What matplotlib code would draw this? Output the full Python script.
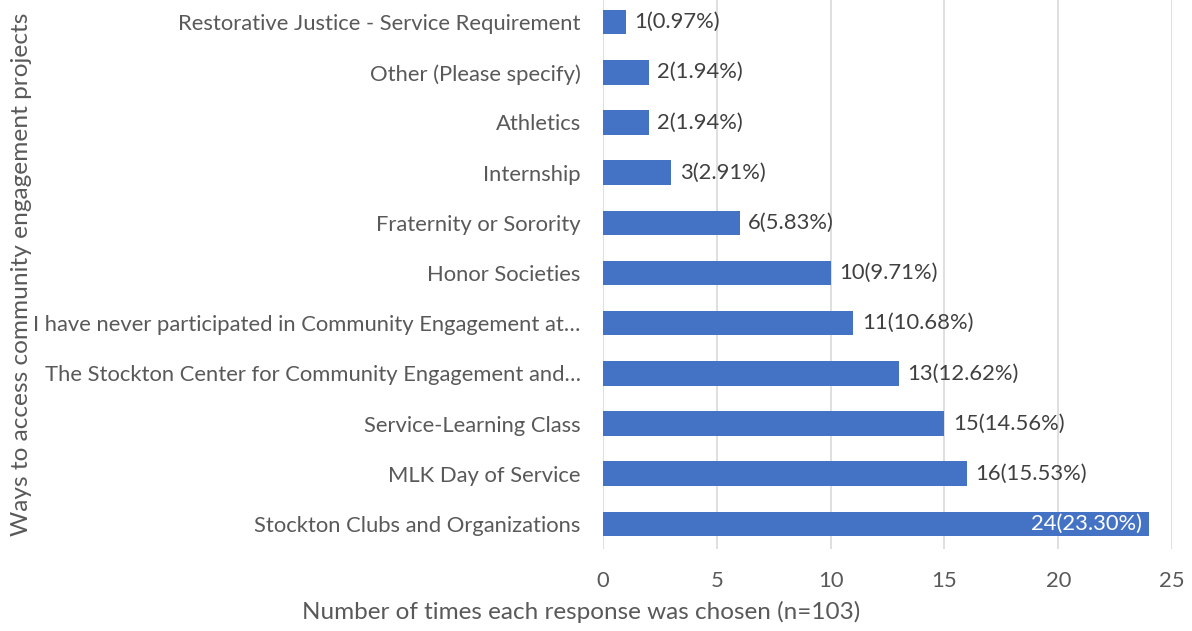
import matplotlib
matplotlib.use("Agg")
import matplotlib.pyplot as plt

categories = [
    "Stockton Clubs and Organizations",
    "MLK Day of Service",
    "Service-Learning Class",
    "The Stockton Center for Community Engagement and\u2026",
    "I have never participated in Community Engagement at\u2026",
    "Honor Societies",
    "Fraternity or Sorority",
    "Internship",
    "Athletics",
    "Other (Please specify)",
    "Restorative Justice - Service Requirement",
]
counts = [24, 16, 15, 13, 11, 10, 6, 3, 2, 2, 1]
percents = [23.30, 15.53, 14.56, 12.62, 10.68, 9.71, 5.83, 2.91, 1.94, 1.94, 0.97]

plt.rcParams["font.family"] = ["Lato", "DejaVu Sans"]
text_color = "#595959"
bar_color = "#4472C4"

fig = plt.figure(figsize=(11.92, 6.31), dpi=100)
ax = fig.add_axes([603 / 1192, 82 / 631, (1172 - 603) / 1192, 549 / 631])

y = list(range(len(categories)))
ax.barh(y, counts, height=0.49, color=bar_color, zorder=3)

# data labels: last (largest) one sits inside the bar in white
for i, (c, p) in enumerate(zip(counts, percents)):
    label = f"{c}({p:.2f}%)"
    if i == 0:
        ax.annotate(label, (c, i), xytext=(-5, 0), textcoords="offset points",
                    ha="right", va="center", color="white", fontsize=15.8, zorder=4)
    else:
        ax.annotate(label, (c, i), xytext=(6, 0), textcoords="offset points",
                    ha="left", va="center", color="#404040", fontsize=15.8, zorder=4)

ax.set_xlim(0, 25)
ax.set_ylim(-0.5, 10.44)
ax.set_xticks([0, 5, 10, 15, 20, 25])
ax.set_yticks(y)
ax.set_yticklabels(categories)
ax.tick_params(axis="both", length=0, labelsize=15.8, labelcolor=text_color)
ax.tick_params(axis="y", pad=16)
ax.tick_params(axis="x", pad=16)
ax.grid(axis="x", color="#D9D9D9", linewidth=1.2, zorder=0)
for s in ax.spines.values():
    s.set_visible(False)

fig.text(581 / 1192, 1 - 612 / 631, "Number of times each response was chosen (n=103)",
         fontsize=17.5, color=text_color, ha="center", va="center")
fig.text(22 / 1192, 1 - 274 / 631, "Ways to access community engagement projects",
         fontsize=17.6, color=text_color, ha="center", va="center", rotation=90)

fig.savefig("out.png", dpi=100)
